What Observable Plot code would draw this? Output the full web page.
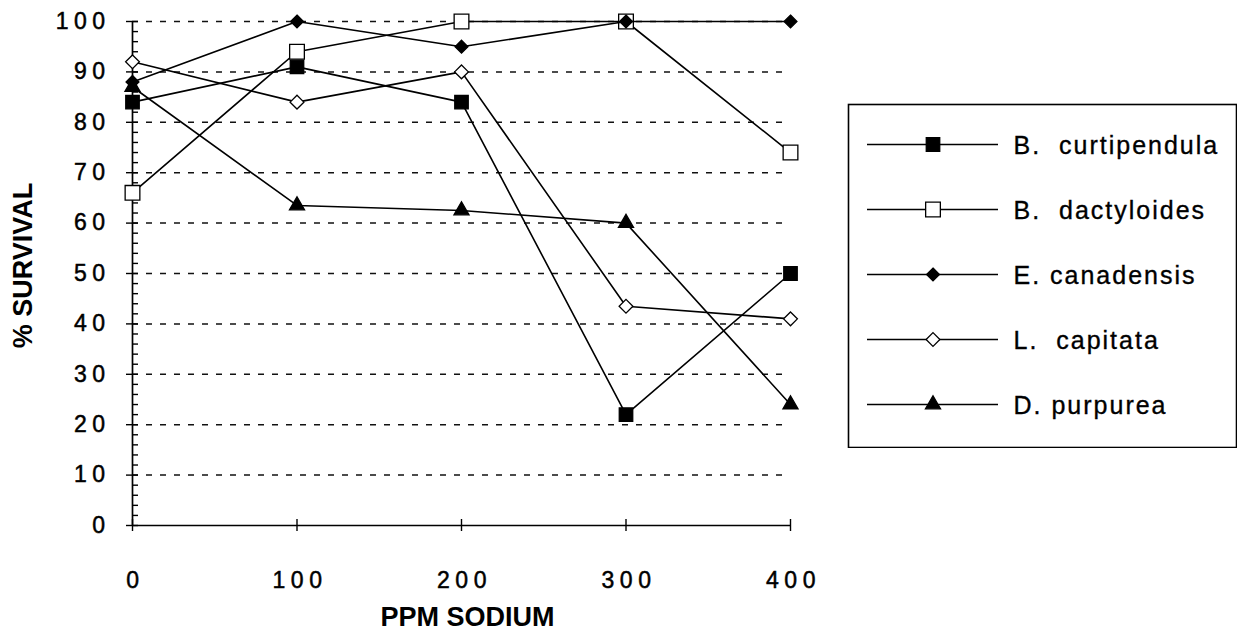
<!DOCTYPE html>
<html><head><meta charset="utf-8">
<script src="https://cdn.jsdelivr.net/npm/d3@7"></script>
<script src="https://cdn.jsdelivr.net/npm/@observablehq/plot@0.6"></script>
<style>
body{margin:0;background:#fff;}
#wrap{position:relative;width:1242px;height:635px;background:#fff;overflow:hidden;}
#main{position:absolute;left:0;top:0;}
#legend{position:absolute;left:847px;top:103px;}
g[aria-label="x-axis tick label"] text, g[aria-label="y-axis tick label"] text{letter-spacing:5.5px;stroke:black;stroke-width:0.5px;}
#legend text{letter-spacing:2px;stroke:black;stroke-width:0.35px;}
</style></head><body>
<div id="wrap"><div id="main"></div><div id="legend"></div></div>
<script>
// ---- data ----
const ppm = [0, 100, 200, 300, 400];
const speciesNames = ["B.  curtipendula", "B.  dactyloides", "E. canadensis", "L.  capitata", "D. purpurea"];
const curtipendula = [84, 91, 84, 22, 50];
const dactyloides = [66, 94, 100, 100, 74];
const canadensis = [88, 100, 95, 100, 100];
const capitata = [92, 84, 90, 43.5, 41];
const purpurea = [87, 63.5, 62.5, 60, 24];
const yMajorTicks = [0, 10, 20, 30, 40, 50, 60, 70, 80, 90, 100];
const yMinorTicks = d3.range(0, 101, 2).filter(v => v % 10 !== 0);
const xTicks = [0, 100, 200, 300, 400];
const yTitle = "% SURVIVAL";
const xTitle = "PPM SODIUM";

// ---- styles ----
const seriesValues = [curtipendula, dactyloides, canadensis, capitata, purpurea];
const styles = [
  {symbol: "square", fill: "black", stroke: "black", r: 7.6},
  {symbol: "square", fill: "white", stroke: "black", r: 8.3},
  {symbol: "diamond2", fill: "black", stroke: "black", r: 5.8},
  {symbol: "diamond2", fill: "white", stroke: "black", r: 6.2},
  {symbol: "triangle", fill: "black", stroke: "black", r: 5.6}
];
const series = speciesNames.map((name, i) => ({name, ...styles[i],
  rows: ppm.map((p, j) => ({ppm: p, value: seriesValues[i][j], name}))}));

const font = "'Liberation Sans', Arial, Helvetica, sans-serif";

const seriesMarks = series.flatMap(s => [
  Plot.line(s.rows, {x: "ppm", y: "value", stroke: "black", strokeWidth: 1.6}),
  Plot.dot(s.rows, {x: "ppm", y: "value", symbol: () => s.symbol, fill: s.fill, stroke: s.stroke, strokeWidth: 1.3, r: s.r})
]);

const main = Plot.plot({
  width: 840, height: 635,
  marginLeft: 132, marginRight: 50, marginTop: 21, marginBottom: 110,
  x: {domain: [0, 400], label: null},
  y: {domain: [0, 100], label: null},
  symbol: {type: "identity"},
  style: {fontFamily: font, background: "transparent", color: "black", overflow: "visible"},
  marks: [
    Plot.gridY(yMajorTicks.filter(v => v > 0), {stroke: "#111", strokeOpacity: 1, strokeWidth: 1.5, strokeDasharray: "6,8"}),
    Plot.ruleX([0], {stroke: "black", strokeWidth: 1.7}),
    Plot.ruleY([0], {stroke: "black", strokeWidth: 1.7}),
    Plot.axisY(yMinorTicks, {tickSize: 6, dx: 6, tickFormat: () => "", label: null, strokeWidth: 1.4}),
    Plot.axisY(yMajorTicks, {tickSize: 12, dx: 6, tickFormat: () => "", label: null, strokeWidth: 1.4}),
    Plot.axisY(yMajorTicks, {tickSize: 0, tickPadding: 22, fontSize: 23, label: null}),
    Plot.axisX(xTicks, {tickSize: 12, dy: -6, tickFormat: () => "", label: null, strokeWidth: 1.4}),
    Plot.axisX(xTicks, {tickSize: 0, tickPadding: 46, dx: 3, fontSize: 23, label: null}),
    ...seriesMarks,
    Plot.text([yTitle], {text: d => d, frameAnchor: "left", textAnchor: "middle", lineAnchor: "middle", rotate: -90, dx: -109, dy: -8, fontSize: 27, fontWeight: "bold"}),
    Plot.text([xTitle], {text: d => d, frameAnchor: "bottom", textAnchor: "middle", dx: 6, dy: 100, fontSize: 27, fontWeight: "bold"})
  ]
});
document.getElementById("main").appendChild(main);

const legend = Plot.plot({
  width: 390, height: 345, margin: 0,
  x: {domain: [0, 1], range: [20, 151], axis: null},
  y: {type: "point", domain: speciesNames, range: [39, 302], padding: 0, axis: null},
  symbol: {type: "identity"},
  style: {fontFamily: font, background: "transparent", color: "black"},
  marks: [
    Plot.frame({stroke: "black", strokeWidth: 1.6, inset: 1}),
    Plot.ruleY(series, {y: "name", x1: 0, x2: 1, stroke: "black", strokeWidth: 1.4}),
    ...series.map(s => Plot.dot([s], {x: 0.5, y: "name", symbol: () => s.symbol, fill: s.fill, stroke: s.stroke, strokeWidth: 1.3, r: s.r})),
    Plot.text(series, {x: 1, y: "name", text: "name", dx: 15, dy: 1, textAnchor: "start", fontSize: 25})
  ]
});
document.getElementById("legend").appendChild(legend);
</script>
</body></html>
